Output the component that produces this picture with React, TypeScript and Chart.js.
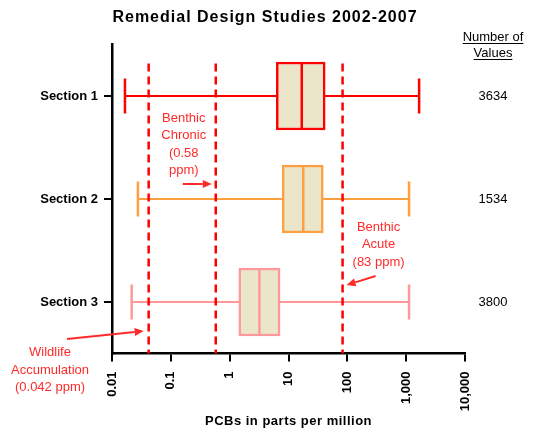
import React, { useEffect, useRef } from 'react';
import { Chart, registerables } from 'chart.js';

Chart.register(...registerables);

const categories = ['Section 1', 'Section 2', 'Section 3'];
const whiskerMin = [0.0166, 0.0276, 0.0216];
const quartile1 = [6.2, 7.8, 1.43];
const medians = [16.8, 17.8, 3.2];
const quartile3 = [42, 39, 7.2];
const whiskerMax = [1660, 1120, 1120];
const valueCounts = ['3634', '1534', '3800'];
const seriesColors = ['#FF0000', '#FFA040', '#FF9999'];
const xTickValues = [0.01, 0.1, 1, 10, 100, 1000, 10000];
const xTickLabels = ['0.01', '0.1', '1', '10', '100', '1,000', '10,000'];
const thresholdValues = [0.042, 0.58, 83];
const thresholdLabels = [
  ['Wildlife', 'Accumulation', '(0.042 ppm)'],
  ['Benthic', 'Chronic', '(0.58', 'ppm)'],
  ['Benthic', 'Acute', '(83 ppm)'],
];
const chartTitle = 'Remedial Design Studies 2002-2007';
const xAxisTitle = 'PCBs in parts per million';
const countHeader = ['Number of', 'Values'];

const FONT = "'Liberation Sans', Arial, sans-serif";
const BOX_FILL = '#EBE5C9';
const RED = '#FF0000';
const ANNOT = '#FF2A2A';

function arrow(ctx: CanvasRenderingContext2D, x0: number, y0: number, x1: number, y1: number) {
  const ang = Math.atan2(y1 - y0, x1 - x0);
  const hl = 9;
  const hw = 4;
  const bx = x1 - hl * Math.cos(ang);
  const by = y1 - hl * Math.sin(ang);
  ctx.save();
  ctx.strokeStyle = ANNOT;
  ctx.fillStyle = ANNOT;
  ctx.lineWidth = 2;
  ctx.beginPath();
  ctx.moveTo(x0, y0);
  ctx.lineTo(bx, by);
  ctx.stroke();
  ctx.beginPath();
  ctx.moveTo(x1, y1);
  ctx.lineTo(bx - hw * Math.sin(ang), by + hw * Math.cos(ang));
  ctx.lineTo(bx + hw * Math.sin(ang), by - hw * Math.cos(ang));
  ctx.closePath();
  ctx.fill();
  ctx.restore();
}

const boxPlugin = {
  id: 'boxExtras',
  beforeDatasetsDraw(chart: any) {
    const { ctx } = chart;
    const xs = chart.scales.x;
    const ys = chart.scales.y;
    ctx.save();
    categories.forEach((_, i) => {
      const y = ys.getPixelForValue(i);
      const x0 = xs.getPixelForValue(whiskerMin[i]);
      const x1 = xs.getPixelForValue(whiskerMax[i]);
      ctx.strokeStyle = seriesColors[i];
      ctx.lineWidth = 2;
      ctx.beginPath();
      ctx.moveTo(x0, y);
      ctx.lineTo(x1, y);
      ctx.stroke();
      ctx.lineWidth = 2.5;
      ctx.beginPath();
      ctx.moveTo(x0, y - 17.5);
      ctx.lineTo(x0, y + 17.5);
      ctx.moveTo(x1, y - 17.5);
      ctx.lineTo(x1, y + 17.5);
      ctx.stroke();
    });
    ctx.restore();
  },
  afterDatasetsDraw(chart: any) {
    const { ctx, chartArea } = chart;
    const xs = chart.scales.x;
    const ys = chart.scales.y;
    ctx.save();
    // medians
    categories.forEach((_, i) => {
      const y = ys.getPixelForValue(i);
      const xm = xs.getPixelForValue(medians[i]);
      ctx.strokeStyle = seriesColors[i];
      ctx.lineWidth = 2.5;
      ctx.beginPath();
      ctx.moveTo(xm, y - 33);
      ctx.lineTo(xm, y + 33);
      ctx.stroke();
    });
    // threshold dashed lines
    ctx.strokeStyle = RED;
    ctx.lineWidth = 2.5;
    ctx.setLineDash([8, 5]);
    thresholdValues.forEach((v) => {
      const x = xs.getPixelForValue(v);
      ctx.beginPath();
      ctx.moveTo(x, chartArea.top + 19);
      ctx.lineTo(x, chartArea.bottom);
      ctx.stroke();
    });
    ctx.setLineDash([]);

    // annotations
    ctx.fillStyle = ANNOT;
    ctx.font = `13px ${FONT}`;
    ctx.textAlign = 'center';
    ctx.textBaseline = 'middle';
    const lh = 17.5;
    const xW = xs.getPixelForValue(thresholdValues[0]);
    const xC = xs.getPixelForValue(thresholdValues[1]);
    const xA = xs.getPixelForValue(thresholdValues[2]);
    const y1 = ys.getPixelForValue(0);
    const y2 = ys.getPixelForValue(1);
    const y3 = ys.getPixelForValue(2);

    thresholdLabels[0].forEach((t, k) => ctx.fillText(t, 50, chartArea.bottom - 1 + k * lh));
    arrow(ctx, 67, y3 + 37, xW - 5, y3 + 29);

    thresholdLabels[1].forEach((t, k) => ctx.fillText(t, xC - 32, y1 + 22 + k * lh));
    arrow(ctx, xC - 33, y2 - 15, xC - 4, y2 - 15);

    thresholdLabels[2].forEach((t, k) => ctx.fillText(t, xA + 36, y2 + 28 + k * lh));
    arrow(ctx, xA + 33, y3 - 26, xA + 4, y3 - 17);

    // Number of values column
    ctx.fillStyle = '#000';
    ctx.font = `13px ${FONT}`;
    const cx = 493;
    countHeader.forEach((t, k) => {
      const yy = 37 + k * 16;
      ctx.fillText(t, cx, yy);
      const w = ctx.measureText(t).width;
      ctx.fillRect(cx - w / 2, yy + 6, w, 1);
    });
    valueCounts.forEach((t, i) => {
      ctx.fillText(t, cx, ys.getPixelForValue(i));
    });

    // titles (letter-spaced)
    (ctx as any).letterSpacing = '1px';
    ctx.font = `bold 16px ${FONT}`;
    ctx.fillText(chartTitle, 265, 17.5);
    (ctx as any).letterSpacing = '0.5px';
    ctx.font = `bold 13px ${FONT}`;
    ctx.fillText(xAxisTitle, (chartArea.left + chartArea.right) / 2, 421.5);
    (ctx as any).letterSpacing = '0px';
    ctx.restore();
  },
};

export default function App() {
  const ref = useRef<HTMLCanvasElement | null>(null);
  useEffect(() => {
    if (!ref.current) return;
    const chart = new Chart(ref.current, {
      type: 'bar',
      data: {
        labels: categories,
        datasets: [
          {
            data: categories.map((_, i) => [quartile1[i], quartile3[i]]) as any,
            backgroundColor: BOX_FILL,
            borderColor: seriesColors,
            borderWidth: 2.5,
            borderSkipped: false,
            barThickness: 68,
          },
        ],
      },
      options: {
        indexAxis: 'y',
        responsive: false,
        animation: false,
        layout: { padding: { left: 0, right: 71, top: 44.5, bottom: 0 } },
        plugins: {
          legend: { display: false },
          tooltip: { enabled: false },
          title: { display: false },
        },
        scales: {
          x: {
            type: 'logarithmic',
            min: 0.01,
            max: 10000,
            afterBuildTicks: (s: any) => {
              s.ticks = xTickValues.map((v) => ({ value: v }));
            },
            afterFit: (s: any) => {
              s.height = 75.5;
            },
            ticks: {
              autoSkip: false,
              minRotation: 90,
              maxRotation: 90,
              padding: 10,
              color: '#000',
              font: { family: FONT, size: 13, weight: 'bold' },
              callback: (_v: any, i: number) => xTickLabels[i],
            },
            grid: { drawOnChartArea: false, drawTicks: true, tickLength: 8, color: '#000', lineWidth: 2 },
            border: { color: '#000', width: 2.5 },
            title: { display: false },
          },
          y: {
            type: 'category',
            offset: true,
            afterFit: (s: any) => {
              s.width = 112;
            },
            grid: { offset: false, drawOnChartArea: false, drawTicks: true, tickLength: 8, color: '#000', lineWidth: 2 },
            border: { color: '#000', width: 2.5 },
            ticks: {
              padding: 6,
              color: '#000',
              font: { family: FONT, size: 13, weight: 'bold' },
            },
          },
        },
      } as any,
      plugins: [boxPlugin],
    });
    return () => chart.destroy();
  }, []);
  return (
    <div style={{ position: 'absolute', left: 0, top: 0, width: 536, height: 429 }}>
      <canvas ref={ref} width={536} height={429} />
    </div>
  );
}
